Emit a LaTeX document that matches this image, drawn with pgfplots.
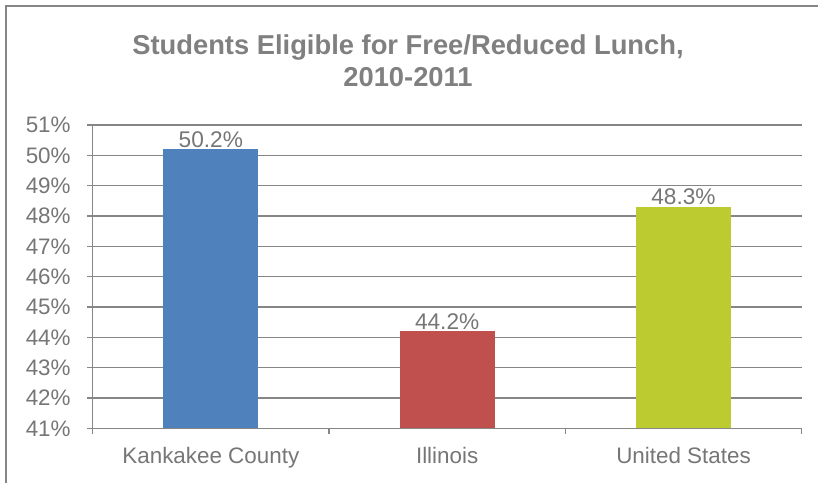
\documentclass[border=0pt]{standalone}
\usepackage{fontspec}
\setmainfont{Liberation Sans}
\usepackage{pgfplots}
\pgfplotsset{compat=1.18}

\definecolor{txtgray}{RGB}{118,118,118}
\definecolor{ttlgray}{RGB}{128,128,128}
\definecolor{linegray}{RGB}{134,134,134}
\definecolor{barblue}{RGB}{79,129,189}
\definecolor{barred}{RGB}{192,80,77}
\definecolor{bargreen}{RGB}{187,203,48}

\begin{document}
\begin{tikzpicture}
\useasboundingbox (0,0) rectangle (613.5pt,362.25pt);
% outer chart frame (only left and top edges are visible)
\draw[linegray, line width=1.1pt] (4.5pt,0) -- (4.5pt,357.75pt) -- (613.5pt,357.75pt);
% title
\node[anchor=base, text=ttlgray, font=\fontsize{20.5}{24}\selectfont\bfseries]
  at (306pt,321.5pt) {Students Eligible for Free/Reduced Lunch,};
\node[anchor=base, text=ttlgray, font=\fontsize{20.5}{24}\selectfont\bfseries]
  at (306pt,297pt) {2010-2011};

\begin{axis}[
  at={(69.5pt,41pt)}, anchor=south west,
  scale only axis,
  width=531.75pt, height=227.5pt,
  xmin=-0.5, xmax=2.5,
  ymin=41, ymax=51,
  ytick={41,42,43,44,45,46,47,48,49,50,51},
  yticklabels={41\%,42\%,43\%,44\%,45\%,46\%,47\%,48\%,49\%,50\%,51\%},
  xtick={0,1,2},
  xticklabels={Kankakee County,Illinois,United States},
  minor xtick={-0.5,0.5,1.5,2.5},
  major x tick style={draw=none},
  minor x tick style={linegray, line width=1pt},
  y tick style={linegray, line width=1pt},
  tick align=outside,
  major tick length=4pt,
  minor tick length=4pt,
  axis x line*=bottom,
  axis y line*=left,
  axis line style={linegray, line width=1pt, -},
  ymajorgrids,
  grid style={linegray, line width=1pt},
  tick label style={text=txtgray, font=\fontsize{16.8}{18}\selectfont},
  xticklabel style={yshift=-7pt},
  yticklabel style={xshift=-9pt},
  /pgf/number format/assume math mode=true,
  ybar, bar width=71.25pt, bar shift=0pt,
  nodes near coords={\pgfmathprintnumber[fixed,precision=1,fixed zerofill]{\pgfplotspointmeta}\%},
  nodes near coords style={anchor=base, yshift=1.5pt, text=txtgray, font=\fontsize{17}{18}\selectfont},
  clip=false,
]
\addplot[draw=none, fill=barblue] coordinates {(0,50.2)};
\addplot[draw=none, fill=barred] coordinates {(1,44.2)};
\addplot[draw=none, fill=bargreen] coordinates {(2,48.3)};
\end{axis}
\end{tikzpicture}
\end{document}
